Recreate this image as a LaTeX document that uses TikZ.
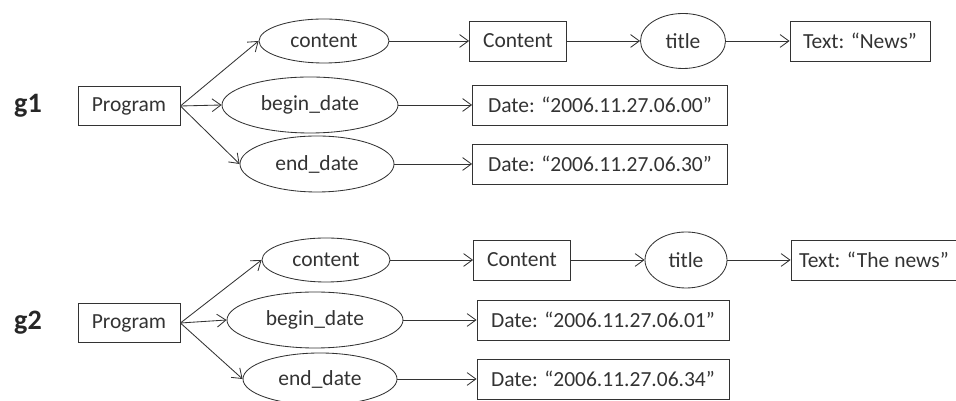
\documentclass[tikz,border=0pt]{standalone}
\usepackage{fontspec}
\setmainfont{Carlito}
\usetikzlibrary{shapes.geometric,arrows.meta}
\tikzset{
  box/.style={draw=black!80, rectangle, minimum height=1cm, inner sep=2pt, text=black!80},
  prop/.style={draw=black!80, ellipse, inner sep=0pt, text=black!80},
  glabel/.style={font=\fontsize{20}{24}\selectfont\bfseries, text=black!85},
}
\begin{document}
\begin{tikzpicture}[font=\fontsize{15.3}{18}\selectfont, line width=0.6pt, draw=black!80,
                    >={Straight Barb[length=2.2mm,width=3.2mm]}]
         \useasboundingbox (0,0) rectangle (23.9,10.025);
         % graph g1
         \node[glabel] (G1) at (0.7, 7.375) {g1};
         \node[box, minimum width=2.55cm, minimum height=0.975cm] (P1) at (3.225, 7.375) {Program};
         \node[prop, minimum width=3.25cm, minimum height=1.1cm] (c1) at (8.1, 9.0) {content};
         \node[prop, minimum width=4.4cm, minimum height=1.4cm] (b1) at (7.75, 7.4) {begin\_date};
         \node[prop, minimum width=3.85cm, minimum height=1.4cm] (e1) at (7.925, 5.925) {end\_date};
         \node[box, minimum width=2.425cm] (C1) at (12.95, 9.0) {Content};
         \node[prop, minimum width=2.125cm, minimum height=1.375cm] (t1) at (17.075, 9.0) {title};
         \node[box, minimum width=3.5cm] (T1) at (21.5, 9.0) {Text: “News”};
         \node[box, minimum width=6.375cm] (db1) at (15.0, 7.4) {Date: “2006.11.27.06.00”};
         \node[box, minimum width=6.375cm] (de1) at (15.0, 5.925) {Date: “2006.11.27.06.30”};
         \draw [->] (P1.east) -- (c1.west);
         \draw [->] (P1.east) -- (b1.west);
         \draw [->] (P1.east) -- (e1.west);
         \draw [->] (c1) -- (C1);
         \draw [->] (C1) -- (t1);
         \draw [->] (t1) -- (T1);
         \draw [->] (b1) -- (db1);
         \draw [->] (e1) -- (de1);
         % graph g2
         \node[glabel] (G2) at (0.7, 1.95) {g2};
         \node[box, minimum width=2.55cm, minimum height=0.975cm] (P2) at (3.225, 1.95) {Program};
         \node[prop, minimum width=3.2cm, minimum height=1.1cm] (c2) at (8.15, 3.525) {content};
         \node[prop, minimum width=4.4cm, minimum height=1.4cm] (b2) at (7.875, 2.025) {begin\_date};
         \node[prop, minimum width=3.85cm, minimum height=1.3cm] (e2) at (8.0, 0.55) {end\_date};
         \node[box, minimum width=2.425cm] (C2) at (13.05, 3.525) {Content};
         \node[prop, minimum width=2.05cm, minimum height=1.4cm] (t2) at (17.15, 3.525) {title};
         \node[box, minimum width=4.15cm] (T2) at (21.85, 3.525) {Text: “The news”};
         \node[box, minimum width=6.3cm] (db2) at (15.075, 2.025) {Date: “2006.11.27.06.01”};
         \node[box, minimum width=6.3cm] (de2) at (15.075, 0.55) {Date: “2006.11.27.06.34”};
         \draw [->] (P2.east) -- (c2.west);
         \draw [->] (P2.east) -- (b2.west);
         \draw [->] (P2.east) -- (e2.west);
         \draw [->] (c2) -- (C2);
         \draw [->] (C2) -- (t2);
         \draw [->] (t2) -- (T2);
         \draw [->] (b2) -- (db2);
         \draw [->] (e2) -- (de2);
\end{tikzpicture}
\end{document}
